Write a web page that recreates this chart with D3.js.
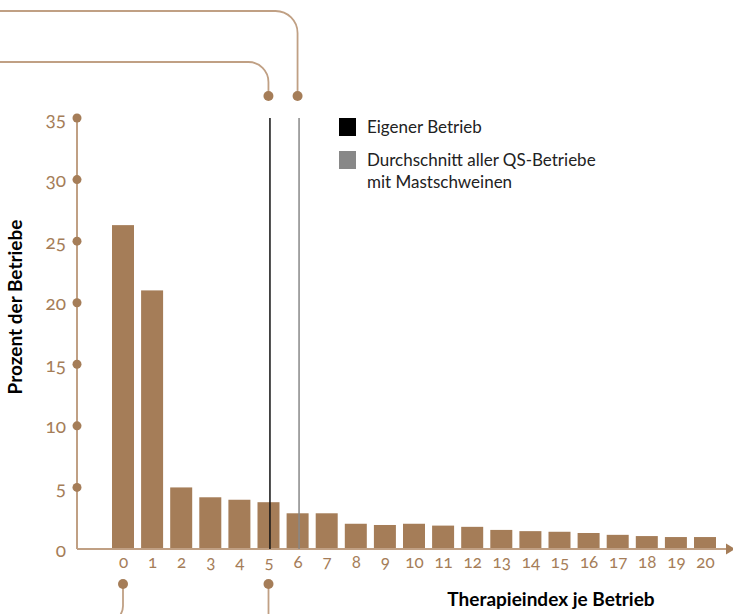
<!DOCTYPE html>
<html lang="de">
<head>
    <meta charset="UTF-8">
    <title>Therapieindex je Betrieb</title>
    <script src="https://cdn.jsdelivr.net/npm/d3@7"></script>
    <style>
        body { margin: 0; background: #fff; }
        svg { display: block; }
        .num { font-variant-numeric: oldstyle-nums; font-feature-settings: "onum" 1; }
    </style>
</head>
<body>
    <div id="chart-space"></div>

    <script>
        // Therapieindex classes and share of farms (%)
        var categories = d3.range(0, 21);
        var percentValues = [26.3, 21.0, 5.0, 4.2, 4.0, 3.8, 2.9, 2.9, 2.05, 1.95, 2.05,
                             1.9, 1.8, 1.55, 1.45, 1.4, 1.3, 1.15, 1.05, 0.97, 0.97];
        var yTicks = [0, 5, 10, 15, 20, 25, 30, 35];
        var ownValue = 5.05;       // Eigener Betrieb
        var averageValue = 6.05;   // Durchschnitt aller QS-Betriebe
        var legendLabels = [["Eigener Betrieb"], ["Durchschnitt aller QS-Betriebe", "mit Mastschweinen"]];

        var width = 733;
        var height = 614;
        var brown = "#a57d58";
        var axisColor = "#c0a084";

        var svg = d3.select("#chart-space")
            .append("svg")
            .attr("width", width)
            .attr("height", height)
            .style("font-family", "Lato, 'Open Sans', sans-serif");

        var xScale = d3.scaleLinear()
            .domain([0, 20])
            .range([123, 705]);

        var yScale = d3.scaleLinear()
            .domain([0, 35])
            .range([549, 118]);

        var barWidth = 22;

        // bars
        svg.selectAll("rect.bar")
            .data(categories)
            .join("rect")
            .attr("class", "bar")
            .attr("x", function(d) { return xScale(d) - barWidth / 2; })
            .attr("width", barWidth)
            .attr("y", function(d, i) { return yScale(percentValues[i]); })
            .attr("height", function(d, i) { return yScale(0) - yScale(percentValues[i]); })
            .attr("fill", brown);

        // y axis line with dots
        svg.append("line")
            .attr("x1", 77).attr("x2", 77)
            .attr("y1", yScale(35)).attr("y2", yScale(0))
            .attr("stroke", axisColor)
            .attr("stroke-width", 2);

        svg.selectAll("circle.ytick")
            .data(yTicks.filter(function(d) { return d > 0; }))
            .join("circle")
            .attr("class", "ytick")
            .attr("cx", 77)
            .attr("cy", function(d) { return yScale(d); })
            .attr("r", 4.5)
            .attr("fill", brown);

        var yAxis = svg.append("g")
            .attr("transform", "translate(66,1)")
            .call(d3.axisLeft(yScale).tickValues(yTicks).tickSize(0).tickPadding(0));
        yAxis.select(".domain").remove();
        yAxis.selectAll("text")
            .attr("class", "num")
            .attr("fill", brown)
            .style("font-size", "19px")
            .style("font-family", "Lato, sans-serif");

        // x axis line with arrow
        svg.append("line")
            .attr("x1", 77).attr("x2", 728)
            .attr("y1", yScale(0)).attr("y2", yScale(0))
            .attr("stroke", axisColor)
            .attr("stroke-width", 2);
        svg.append("path")
            .attr("d", "M726," + (yScale(0) - 5.5) + "L735," + yScale(0) + "L726," + (yScale(0) + 5.5) + "Z")
            .attr("fill", brown);

        var xAxis = svg.append("g")
            .attr("transform", "translate(0," + (yScale(0) + 7) + ")")
            .call(d3.axisBottom(xScale).tickValues(categories).tickSize(0).tickPadding(0).tickFormat(d3.format("d")));
        xAxis.select(".domain").remove();
        xAxis.selectAll("text")
            .attr("class", "num")
            .attr("fill", brown)
            .style("font-size", "17px")
            .style("font-family", "Lato, sans-serif");

        // reference lines
        svg.append("line")
            .attr("x1", xScale(ownValue)).attr("x2", xScale(ownValue))
            .attr("y1", yScale(35)).attr("y2", yScale(0))
            .attr("stroke", "#111")
            .attr("stroke-width", 1.5);
        svg.append("line")
            .attr("x1", xScale(averageValue)).attr("x2", xScale(averageValue))
            .attr("y1", yScale(35)).attr("y2", yScale(0))
            .attr("stroke", "#888")
            .attr("stroke-width", 1.5);

        // connector lines
        var xo = xScale(ownValue) - 1.5;
        var xa = xScale(averageValue) - 1.5;
        var connectors = [
            "M" + xo + ",96 V82 A20,20 0 0 0 " + (xo - 20) + ",62 H0",
            "M" + xa + ",96 V33 A22,22 0 0 0 " + (xa - 22) + ",11 H0",
            "M" + xScale(0) + ",584 V606 A16,16 0 0 1 " + (xScale(0) - 16) + ",622",
            "M" + xScale(5) + ",584 V620"
        ];
        svg.selectAll("path.connector")
            .data(connectors)
            .join("path")
            .attr("class", "connector")
            .attr("d", function(d) { return d; })
            .attr("fill", "none")
            .attr("stroke", axisColor)
            .attr("stroke-width", 1.8);

        svg.selectAll("circle.conn")
            .data([[xo, 96], [xa, 96], [xScale(0), 584], [xScale(5), 584]])
            .join("circle")
            .attr("class", "conn")
            .attr("cx", function(d) { return d[0]; })
            .attr("cy", function(d) { return d[1]; })
            .attr("r", 5)
            .attr("fill", brown);

        // legend
        var legendColors = ["#000", "#888"];
        var legend = svg.selectAll("g.legend")
            .data(legendLabels)
            .join("g")
            .attr("class", "legend")
            .attr("transform", function(d, i) { return "translate(339," + (118 + i * 33) + ")"; });
        legend.append("rect")
            .attr("width", 17).attr("height", 18)
            .attr("fill", function(d, i) { return legendColors[i]; });
        legend.selectAll("text")
            .data(function(d) { return d; })
            .join("text")
            .attr("x", 28)
            .attr("y", function(d, i) { return 15 + i * 22; })
            .attr("fill", "#222")
            .style("font-size", "17px")
            .text(function(d) { return d; });

        // axis titles
        svg.append("text")
            .attr("transform", "translate(22,307) rotate(-90)")
            .attr("text-anchor", "middle")
            .style("font-size", "19px")
            .style("font-weight", "bold")
            .text("Prozent der Betriebe");

        svg.append("text")
            .attr("x", 551)
            .attr("y", 606)
            .attr("text-anchor", "middle")
            .style("font-size", "19px")
            .style("font-weight", "bold")
            .text("Therapieindex je Betrieb");
    </script>
</body>
</html>
